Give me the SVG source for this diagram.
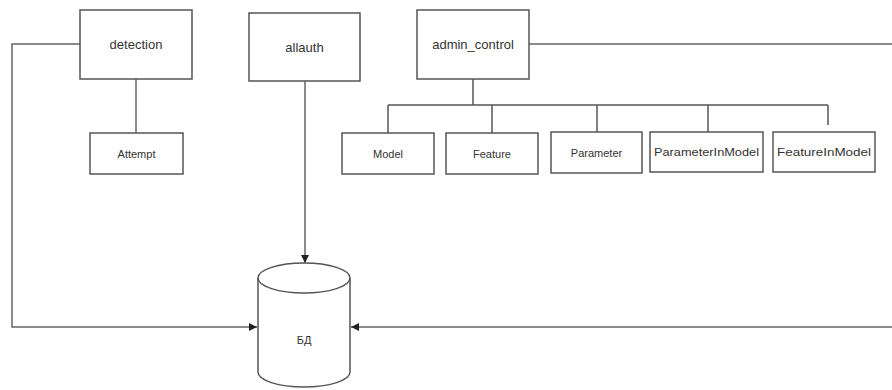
<svg xmlns="http://www.w3.org/2000/svg" width="892" height="390" viewBox="0 0 892 390">
  <style>
    .box { fill: #ffffff; stroke: #555555; stroke-width: 1.5; }
    .wire { fill: none; stroke: #666666; stroke-width: 1.5; }
    .lbl { font-family: "Liberation Sans", Arial, sans-serif; font-size: 13px; fill: #333333; text-anchor: middle; dominant-baseline: central; }
    .sm { font-size: 11px; }
  </style>
  <defs>
    <marker id="arrow" viewBox="0 0 10 10" refX="10" refY="5" markerWidth="8" markerHeight="8" markerUnits="userSpaceOnUse" orient="auto">
      <path d="M0,0 L10,5 L0,10 z" fill="#222222"/>
    </marker>
  </defs>
  <rect width="892" height="390" fill="#ffffff"/>

  <g id="connectors">
    <!-- detection to database -->
    <path class="wire" d="M80,44 H12 V327 H257" marker-end="url(#arrow)"/>
    <!-- detection to Attempt -->
    <path class="wire" d="M136,79 V133"/>
    <!-- allauth to database -->
    <path class="wire" d="M305,81 V263" marker-end="url(#arrow)"/>
    <!-- admin_control to database -->
    <path class="wire" d="M529,44 H892 M892,327 H351" marker-end="url(#arrow)"/>
    <!-- admin_control tree -->
    <path class="wire" d="M473,79 V105 M388,105 H828 M388,105 V133 M492,105 V133 M597,105 V132 M708,105 V132 M828,105 V125" style="stroke:#555555"/>
  </g>

  <g id="detection">
    <rect class="box" x="80" y="10" width="112" height="69"/>
    <text class="lbl" x="136" y="44">detection</text>
  </g>
  <g id="Attempt">
    <rect class="box" x="90" y="133" width="93" height="41"/>
    <text class="lbl sm" x="136.5" y="154">Attempt</text>
  </g>
  <g id="allauth">
    <rect class="box" x="249" y="13" width="111" height="68"/>
    <text class="lbl" x="304.5" y="47">allauth</text>
  </g>
  <g id="admin_control">
    <rect class="box" x="417" y="10" width="112" height="69"/>
    <text class="lbl" x="473" y="44">admin_control</text>
  </g>
  <g id="Model">
    <rect class="box" x="342" y="133" width="92" height="41"/>
    <text class="lbl sm" x="388" y="154">Model</text>
  </g>
  <g id="Feature">
    <rect class="box" x="446" y="133" width="92" height="41"/>
    <text class="lbl sm" x="492" y="154">Feature</text>
  </g>
  <g id="Parameter">
    <rect class="box" x="551" y="132" width="91" height="41"/>
    <text class="lbl sm" x="596.5" y="152.5">Parameter</text>
  </g>
  <g id="ParameterInModel">
    <rect class="box" x="650" y="132" width="113" height="40"/>
    <text class="lbl sm" x="706.5" y="152" textLength="105" lengthAdjust="spacingAndGlyphs">ParameterInModel</text>
  </g>
  <g id="FeatureInModel">
    <rect class="box" x="773" y="132" width="102" height="40"/>
    <text class="lbl sm" x="824" y="152" textLength="94" lengthAdjust="spacingAndGlyphs">FeatureInModel</text>
  </g>
  <g id="db">
    <path class="box" d="M258,278 V372 A46,15 0 0 0 350,372 V278 A46,15 0 0 0 258,278 z"/>
    <path class="box" d="M258,278 A46,15 0 0 0 350,278" style="fill:none"/>
    <text class="lbl sm" x="304" y="340">БД</text>
  </g>
</svg>
